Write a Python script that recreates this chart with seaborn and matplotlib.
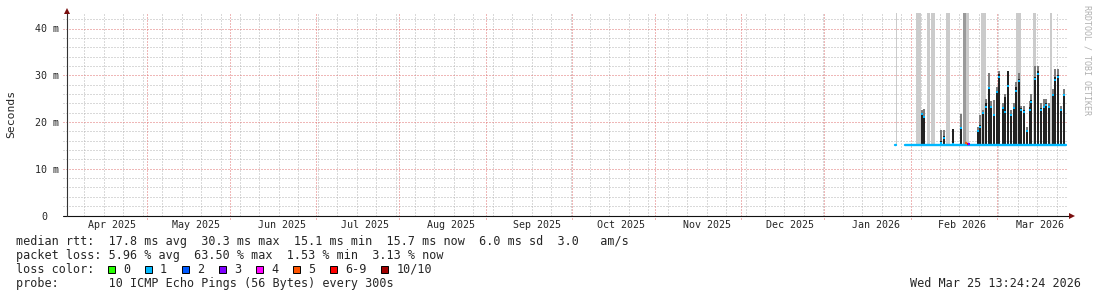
import numpy as np
import pandas as pd
import matplotlib
matplotlib.use("Agg")
import matplotlib.pyplot as plt
import matplotlib.dates as mdates
import matplotlib.transforms as mtransforms
from matplotlib.patches import Rectangle
import seaborn as sns

# ---------------- data ----------------
now_str = "2026-03-25 13:24:24"
span_days = 360

# median rtt (ms) baseline
first_t = ["2026-01-22 18:00", "2026-01-23 02:00"]
first_ms = [15.0, 15.0]
base_t = ["2026-01-26 06:00", "2026-03-25 13:00"]
base_ms = [15.0, 15.0]
floor_ms = 15.0

# periods where the smoke runs off the top of the graph
hi_start = ["2026-01-23 00:00", "2026-01-30 05:00", "2026-02-03 12:00", "2026-02-04 23:00",
            "2026-02-10 00:00", "2026-02-16 11:00", "2026-02-22 23:00", "2026-03-07 13:00",
            "2026-03-13 08:00", "2026-03-19 19:00"]
hi_end = ["2026-01-23 09:00", "2026-02-01 00:00", "2026-02-04 06:00", "2026-02-06 01:00",
          "2026-02-11 19:00", "2026-02-18 15:00", "2026-02-24 10:00", "2026-03-09 00:00",
          "2026-03-14 18:00", "2026-03-20 12:00"]
hi_dense_start = ["2026-02-16 11:00"]
hi_dense_end = ["2026-02-17 13:00"]

# daily rtt spikes: median, dense smoke top, light smoke top (ms)
spike_t = ["2026-02-01 09:00", "2026-02-02 10:30", "2026-02-08 05:00", "2026-02-09 07:00",
           "2026-02-12 21:00", "2026-02-15 10:00", "2026-02-21 12:30", "2026-02-22 10:00",
           "2026-02-23 08:00", "2026-02-24 10:00", "2026-02-25 11:30", "2026-02-26 09:00",
           "2026-02-27 15:00", "2026-02-28 09:00", "2026-03-01 10:30", "2026-03-02 12:30",
           "2026-03-03 10:00", "2026-03-04 08:00", "2026-03-05 10:00", "2026-03-06 11:30",
           "2026-03-07 05:00", "2026-03-08 07:00", "2026-03-09 08:30", "2026-03-10 10:30",
           "2026-03-11 04:00", "2026-03-12 06:00", "2026-03-12 23:00", "2026-03-14 01:00",
           "2026-03-15 03:00", "2026-03-16 05:00", "2026-03-17 07:00", "2026-03-18 08:30",
           "2026-03-19 10:30", "2026-03-20 12:30", "2026-03-21 06:00", "2026-03-22 08:00",
           "2026-03-23 10:00", "2026-03-24 11:30"]
spike_med = [21.8, 21.0, 15.5, 16.5, 15.2, 18.8, 18.0, 19.0, 21.9, 23.3, 27.3, 23.3, 21.5,
             26.5, 29.6, 22.9, 22.1, 27.6, 21.6, 23.0, 26.6, 28.7, 22.5, 22.1, 18.0, 22.6,
             24.2, 29.2, 30.3, 22.5, 23.3, 23.6, 23.2, 25.7, 28.9, 29.6, 22.5, 25.7]
spike_dark = [21.8, 21.0, 16.0, 17.0, 18.6, 18.9, 18.2, 19.3, 22.1, 24.0, 27.4, 23.5, 21.8,
              26.7, 30.3, 23.2, 25.3, 31.0, 21.8, 23.2, 27.4, 29.2, 22.9, 22.5, 18.2, 23.2,
              24.6, 29.6, 31.0, 22.9, 23.5, 24.0, 23.2, 26.0, 29.6, 30.0, 22.5, 26.0]
spike_smoke = [22.5, 22.7, 18.2, 18.2, 18.6, 21.8, 19.0, 21.4, 22.5, 25.0, 30.4, 24.5, 24.6,
               27.5, 31.0, 24.0, 26.0, 31.0, 22.5, 24.0, 28.5, 30.5, 23.5, 23.5, 19.0, 24.5,
               26.0, 32.0, 32.0, 24.0, 25.0, 25.0, 24.0, 27.0, 31.4, 31.4, 23.5, 27.0]

# median segments coloured by loss
loss_t0 = ["2026-02-17 01:00", "2026-02-17 14:00", "2026-02-18 00:00"]
loss_t1 = ["2026-02-17 14:00", "2026-02-18 00:00", "2026-02-18 18:00"]
loss_ms = [15.5, 15.3, 15.3]
loss_idx = [5, 6, 3]

# legend
loss_labels = ["0", "1", "2", "3", "4", "5", "6-9", "10/10"]
loss_colors = ["#26ff00", "#00b8ff", "#0059ff", "#7e00ff", "#ff00ff", "#ff5500", "#ff0000", "#a10000"]
y_ticks = [0, 10, 20, 30, 40]
y_tick_labels = ["0", "10 m", "20 m", "30 m", "40 m"]
legend_rows = [
    "median rtt:  17.8 ms avg  30.3 ms max  15.1 ms min  15.7 ms now  6.0 ms sd  3.0   am/s",
    "packet loss: 5.96 % avg  63.50 % max  1.53 % min  3.13 % now",
    "loss color:",
    "probe:       10 ICMP Echo Pings (56 Bytes) every 300s",
]
stamp = "Wed Mar 25 13:24:24 2026"

# ---------------- drawing ----------------
sns.set_style("white")
plt.rcParams["font.family"] = ["DejaVu Sans Mono", "DejaVu Sans"]
plt.rcParams["lines.scale_dashes"] = False
MONO = "DejaVu Sans Mono"

W, H = 1097, 297
fig = plt.figure(figsize=(W / 100, H / 100), dpi=100)
fig.patch.set_facecolor("white")
AX_L, AX_R, AX_T, AX_B = 66.5, 1066.5, 12.5, 215.5
ax = fig.add_axes([AX_L / W, 1 - AX_B / H, (AX_R - AX_L) / W, (AX_B - AX_T) / H])
ax.set_facecolor("white")
YTOP = (AX_B - AX_T) / ((AX_B - 28.5) / 40.0)

def num(ts):
    return mdates.date2num(pd.to_datetime(pd.Series(ts)).dt.to_pydatetime())

t_now = pd.Timestamp(now_str)
t_start = t_now - pd.Timedelta(days=span_days)
x0, x1 = num([t_start])[0], num([t_now])[0]

MINOR = "#b4b4b4"
MAJOR = "#e07070"
PX = 0.72  # one pixel in points
dot = (0, (PX, 2 * PX))
tr_xa = mtransforms.blended_transform_factory(ax.transData, ax.transAxes)
tr_ay = mtransforms.blended_transform_factory(ax.transAxes, ax.transData)
px_y = 1.0 / (AX_B - AX_T)
px_x = 1.0 / (AX_R - AX_L)
gkw = dict(lw=PX, ls=dot, antialiased=True, clip_on=False, solid_capstyle="butt",
           dash_capstyle="butt")

# weekly minor grid
weeks = pd.date_range(t_start.ceil("D"), t_now, freq="W-SUN")
for d in num(weeks):
    ax.plot([d, d], [0, 1], transform=tr_xa, color=MINOR, zorder=0.5, **gkw)
# monthly major grid
majors = pd.date_range("2025-04-01", "2026-02-01", freq="MS") + pd.Timedelta(days=27.4)
for d in num(majors):
    ax.plot([d, d], [-3 * px_y, 1], transform=tr_xa, color=MAJOR, zorder=0.6, **gkw)
# horizontal grid
for v in np.arange(2, YTOP, 2):
    if v % 10:
        ax.plot([-4 * px_x, 1], [v, v], transform=tr_ay, color=MINOR, zorder=0.5, **gkw)
for v in y_ticks[1:]:
    ax.plot([-4 * px_x, 1], [v, v], transform=tr_ay, color=MAJOR, zorder=0.6, **gkw)

# smoke beyond the top
hs, he = num(hi_start), num(hi_end)
ax.bar(hs, 100, width=he - hs, bottom=floor_ms, align="edge", color="#cbcbcb", lw=0, zorder=1)
ds, de = num(hi_dense_start), num(hi_dense_end)
ax.bar(ds, 100, width=de - ds, bottom=floor_ms, align="edge", color="#9a9a9a", lw=0, zorder=1.1)

# spikes (2 px wide columns)
st = num(spike_t)
ax.vlines(st, floor_ms, spike_smoke, colors="#7c7c7c", lw=2 * PX, zorder=2, antialiased=False)
ax.vlines(st, floor_ms, spike_dark, colors="#222222", lw=2 * PX, zorder=3, antialiased=False)

# median lines
sns.lineplot(x=num(first_t), y=first_ms, ax=ax, color=loss_colors[1], lw=1.7, zorder=4,
             legend=False)
sns.lineplot(x=num(base_t), y=base_ms, ax=ax, color=loss_colors[1], lw=1.7, zorder=4,
             legend=False)
for a, b, v, k in zip(num(loss_t0), num(loss_t1), loss_ms, loss_idx):
    ax.plot([a, b], [v, v], color=loss_colors[k], lw=1.7, zorder=4.5, solid_capstyle="butt")
sns.scatterplot(x=st, y=spike_med, ax=ax, marker="s", s=4.2, color=loss_colors[1], linewidth=0,
                zorder=5, legend=False)

ax.set_xlim(x0, x1)
ax.set_ylim(0, YTOP)
for s in ax.spines.values():
    s.set_visible(False)

# axes lines and arrows
ax.plot([-4 * px_x, 1 + 3.5 * px_x], [0, 0], transform=ax.transAxes, color="#111111", lw=0.8,
        clip_on=False, zorder=6)
ax.plot([0, 0], [0, 1], transform=ax.transAxes, color="#333333", lw=0.8, clip_on=False, zorder=6)
ax.plot([0], [1 + 1.5 * px_y], transform=ax.transAxes, marker="^", ms=4.2, color="#7a0f0f",
        mew=0, clip_on=False, zorder=7)
ax.plot([1 + 5.5 * px_x], [0], transform=ax.transAxes, marker=">", ms=4.2, color="#7a0f0f",
        mew=0, clip_on=False, zorder=7)

# ticks
months = pd.date_range("2025-04-01", "2026-03-01", freq="MS")
ax.set_xticks(num(months + pd.Timedelta(days=15)))
ax.set_xticklabels([m.strftime("%b %Y") for m in months], fontsize=7.2, family=MONO)
ax.tick_params(axis="x", length=0, pad=3.5)
ax.set_yticks(y_ticks)
ax.set_yticklabels(y_tick_labels, fontsize=7.2, family=MONO)
ax.tick_params(axis="y", length=0, pad=5.2)
lab0 = ax.get_yticklabels()[0]
lab0.set_transform(lab0.get_transform() + mtransforms.ScaledTranslation(-11.5 / 100, 0, fig.dpi_scale_trans))

# texts
def ftext(x, y, s, **kw):
    fig.text(x / W, 1 - y / H, s, **kw)

ftext(11, 114, "Seconds", rotation=90, ha="center", va="center", fontsize=8.2, family=MONO)
ftext(1087.5, 60, "RRDTOOL / TOBI OETIKER", rotation=270, ha="center", va="center",
      fontsize=6.0, family=MONO, color="#b0b0b0")

baselines = [245, 259, 273, 287]
for row, yb in zip(legend_rows, baselines):
    ftext(15.5, yb, row, ha="left", va="baseline", fontsize=8.5, family=MONO)
ftext(1081, 287, stamp, ha="right", va="baseline", fontsize=8.5, family=MONO)

cw = 7.1
bx = 108.0
for lab, col in zip(loss_labels, loss_colors):
    fig.add_artist(Rectangle((bx / W, 1 - 272.5 / H), 6.5 / W, 7 / H, transform=fig.transFigure,
                             facecolor=col, edgecolor="black", lw=0.7))
    ftext(bx + 15, 273, lab, ha="left", va="baseline", fontsize=8.5, family=MONO)
    bx = bx + 15 + len(lab) * cw + 14.9

fig.savefig("out.png", dpi=100, facecolor="white")
